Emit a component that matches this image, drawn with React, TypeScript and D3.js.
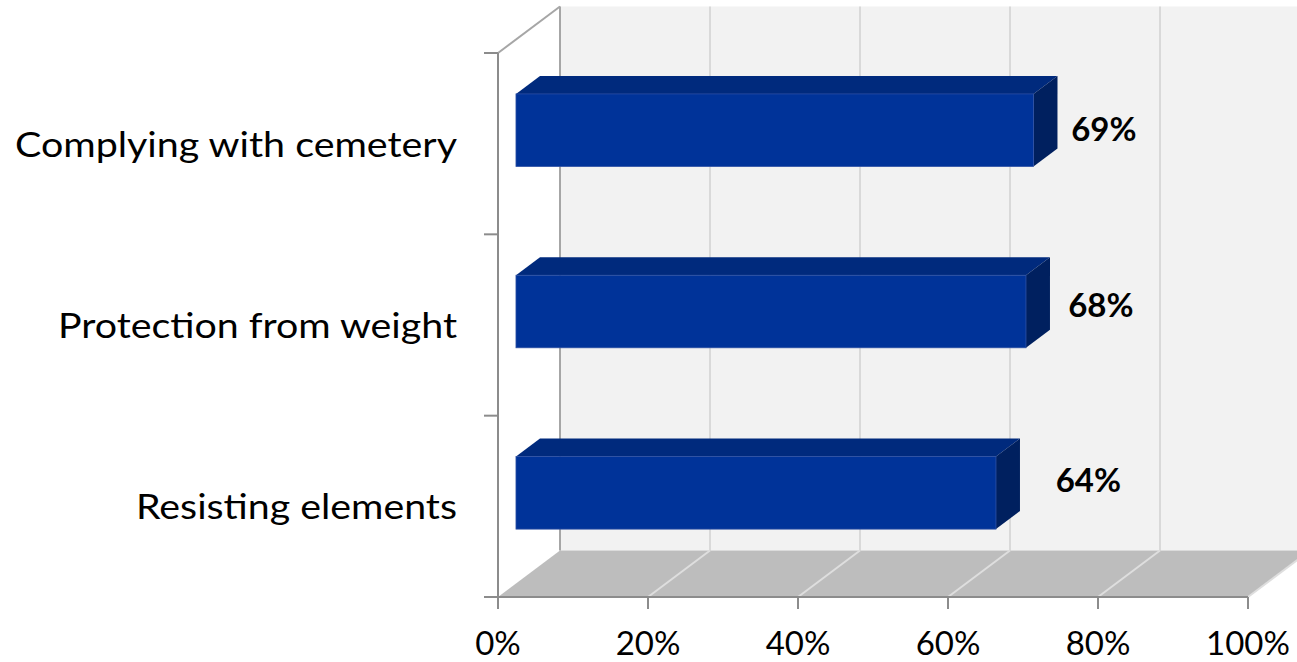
import React from 'react';
import * as d3 from 'd3';

const categories = ['Complying with cemetery', 'Protection from weight', 'Resisting elements'];
const values = [69, 68, 64];
const xTicks = [0, 20, 40, 60, 80, 100];
const labelWidths = [442, 399, 321]; // measured text widths of the category labels

const W = 1297;
const H = 662;
const DEPTH_X = 62;
const DEPTH_Y = -46.5;
const BAR_FRONT = 0.29;
const BAR_BACK = 0.677;
const FONT = "'Lato', 'Noto Sans', 'Open Sans', sans-serif";

const App: React.FC = () => {
  const x = d3.scaleLinear().domain([0, 100]).range([498, 1248]);
  const y = d3.scaleBand<string>().domain(categories).range([53, 597]).paddingInner(0.6).paddingOuter(0.3);
  const yTop = 53;
  const yBottom = 597;
  const step = (yBottom - yTop) / categories.length;

  // data labels sit on their own (slightly compressed) layout, like the 3D original
  const labelX = d3.scaleLinear().domain([0, 100]).range([890, 1200]);
  const labelY = d3.scalePoint<string>().domain(categories).range([129, 480.5]);

  // project a front-plane point back by a depth fraction
  const px = (xv: number, d: number) => x(xv) + d * DEPTH_X;
  const py = (yv: number, d: number) => yv + d * DEPTH_Y;

  const wallTop = py(yTop, 1);
  const floorBack = py(yBottom, 1);

  const axisColor = '#8c8c8c';
  const pts = (a: number[][]) => a.map(p => p.join(',')).join(' ');

  return (
    <svg width={W} height={H} style={{ position: 'absolute', left: 0, top: 0, background: '#fff' }}>
      {/* back wall */}
      <rect x={px(0, 1)} y={wallTop} width={px(100, 1) - px(0, 1)} height={floorBack - wallTop} fill="#f2f2f2" />
      {xTicks.slice(1).map(t => (
        <line key={'wg' + t} x1={px(t, 1)} x2={px(t, 1)} y1={wallTop} y2={floorBack} stroke="#d9d9d9" strokeWidth={2} />
      ))}
      {/* floor */}
      <polygon
        points={pts([
          [px(0, 0), yBottom],
          [px(0, 1), floorBack],
          [px(100, 1), floorBack],
          [px(100, 0), yBottom],
        ])}
        fill="#bdbdbd"
      />
      {xTicks.slice(1).map(t => (
        <line key={'fg' + t} x1={px(t, 0)} y1={yBottom} x2={px(t, 1)} y2={floorBack} stroke="#dedede" strokeWidth={2} />
      ))}
      {/* side wall edges */}
      <line x1={px(0, 1)} x2={px(0, 1)} y1={wallTop} y2={floorBack} stroke="#a6a6a6" strokeWidth={2} />
      <line x1={px(0, 0)} y1={yTop} x2={px(0, 1)} y2={wallTop} stroke="#a6a6a6" strokeWidth={2} />

      {/* bars */}
      {categories.map((c, i) => {
        const v = values[i];
        const y0 = y(c)!;
        const y1 = y0 + y.bandwidth();
        const fx0 = px(0, BAR_FRONT), fx1 = px(v, BAR_FRONT);
        const fy0 = py(y0, BAR_FRONT), fy1 = py(y1, BAR_FRONT);
        const bx0 = px(0, BAR_BACK), bx1 = px(v, BAR_BACK);
        const by0 = py(y0, BAR_BACK), by1 = py(y1, BAR_BACK);
        return (
          <g key={c}>
            <polygon points={pts([[fx0, fy0], [bx0, by0], [bx1, by0], [fx1, fy0]])} fill="#002a7d" />
            <polygon points={pts([[fx1, fy0], [bx1, by0], [bx1, by1], [fx1, fy1]])} fill="#00205f" />
            <rect x={fx0} y={fy0} width={fx1 - fx0} height={fy1 - fy0} fill="#003399" stroke="#2c4fa3" strokeWidth={0.8} />
            <text
              x={labelX(v)}
              y={labelY(c)}
              dy="0.36em"
              textAnchor="middle"
              fontFamily={FONT}
              fontWeight="bold"
              fontSize={33}
              fill="#000"
            >
              {v}%
            </text>
          </g>
        );
      })}

      {/* vertical axis */}
      <line x1={px(0, 0)} x2={px(0, 0)} y1={yTop} y2={yBottom} stroke={axisColor} strokeWidth={2} />
      {d3.range(categories.length + 1).map(k => (
        <line key={'yt' + k} x1={484} x2={px(0, 0)} y1={yTop + k * step} y2={yTop + k * step} stroke={axisColor} strokeWidth={2} />
      ))}
      {categories.map((c, i) => (
        <text
          key={'yl' + c}
          x={457}
          y={y(c)! + y.bandwidth() / 2 + 13}
          textAnchor="end"
          fontFamily={FONT}
          fontSize={35}
          textLength={labelWidths[i]}
          lengthAdjust="spacingAndGlyphs"
          fill="#000"
        >
          {c}
        </text>
      ))}

      {/* horizontal axis */}
      <line x1={484} x2={x(100)} y1={yBottom} y2={yBottom} stroke={axisColor} strokeWidth={2} />
      {xTicks.map(t => (
        <g key={'xt' + t}>
          <line x1={x(t)} x2={x(t)} y1={yBottom} y2={609} stroke={axisColor} strokeWidth={2} />
          <text x={x(t)} y={655} textAnchor="middle" fontFamily={FONT} fontSize={33} fill="#000">
            {t}%
          </text>
        </g>
      ))}
    </svg>
  );
};

export default App;
